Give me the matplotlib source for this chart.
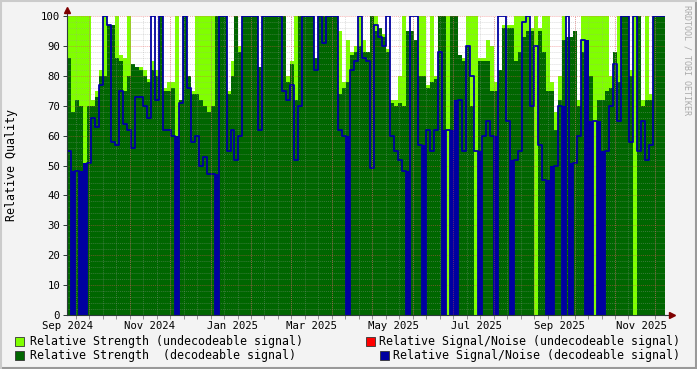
import pandas as pd
import matplotlib
matplotlib.use('Agg')
import matplotlib.pyplot as plt
from matplotlib.patches import Rectangle
from matplotlib.lines import Line2D

# one sample roughly every 3 days, Sep 2024 .. Nov 2025
strength = [
    100, 100, 100, 100, 100, 100, 72, 75, 82, 100, 97, 97, 100, 87, 86, 100, 84, 83, 83, 82, 79, 85, 82, 100, 76,
    78, 78, 100, 72, 100, 80, 75, 100, 100, 100, 100, 100, 100, 100, 100, 75, 85, 100, 90, 100, 100, 100, 100, 83, 100,
    100, 100, 100, 100, 100, 80, 85, 100, 100, 100, 100, 100, 86, 100, 100, 100, 100, 100, 95, 78, 92, 88, 90, 100, 92,
    88, 100, 100, 96, 94, 89, 72, 72, 80, 100, 95, 95, 92, 100, 100, 77, 100, 80, 100, 100, 100, 100, 100, 87, 86,
    100, 100, 100, 86, 86, 92, 90, 78, 82, 97, 97, 97, 100, 100, 100, 100, 96, 100, 96, 100, 100, 78, 68, 80, 100,
    93, 93, 95, 72, 100, 100, 100, 100, 100, 100, 100, 80, 88, 100, 100, 100, 82, 100, 100, 72, 100, 74, 100, 100, 100,
]
strength_decoded = [
    86, 68, 72, 70, 0, 70, 70, 73, 80, 80, 97, 97, 86, 85, 75, 80, 84, 83, 82, 80, 78, 82, 80, 100, 75,
    75, 76, 50, 72, 100, 80, 74, 74, 72, 70, 68, 70, 100, 100, 100, 74, 80, 100, 88, 100, 100, 100, 100, 83, 100,
    100, 100, 100, 100, 100, 78, 84, 72, 100, 100, 100, 100, 86, 100, 100, 100, 100, 100, 74, 76, 78, 87, 88, 90, 88,
    88, 100, 95, 96, 93, 88, 71, 70, 71, 70, 95, 95, 92, 80, 80, 76, 78, 79, 100, 100, 0, 100, 100, 87, 85,
    90, 70, 0, 85, 85, 85, 75, 75, 82, 96, 96, 96, 85, 88, 93, 95, 95, 0, 95, 88, 75, 75, 62, 72, 92,
    93, 93, 95, 70, 88, 72, 80, 0, 72, 72, 75, 76, 88, 78, 100, 100, 80, 0, 100, 70, 72, 72, 100, 100, 100,
]
snr_decoded = [
    55, 0, 48, 0, 0, 51, 66, 63, 77, 100, 97, 58, 57, 75, 64, 62, 56, 73, 73, 70, 66, 100, 72, 100, 62,
    62, 60, 0, 71, 100, 76, 58, 60, 50, 53, 47, 47, 0, 100, 100, 55, 62, 52, 60, 100, 100, 100, 100, 62, 100,
    100, 100, 100, 100, 75, 72, 77, 52, 70, 100, 100, 100, 82, 100, 91, 100, 100, 100, 62, 60, 0, 82, 85, 100, 86,
    85, 49, 97, 93, 90, 100, 60, 55, 52, 48, 0, 100, 100, 57, 0, 62, 55, 62, 88, 0, 62, 0, 0, 72, 55,
    90, 80, 55, 0, 60, 65, 60, 0, 100, 100, 65, 0, 52, 55, 98, 100, 70, 90, 57, 45, 0, 0, 50, 70, 0,
    100, 0, 51, 60, 92, 0, 0, 65, 0, 0, 55, 70, 84, 65, 100, 100, 58, 100, 55, 65, 52, 57, 100, 100, 100,
]
month_labels = ['2024-09-01', '2024-11-01', '2025-01-01', '2025-03-01',
                '2025-05-01', '2025-07-01', '2025-09-01', '2025-11-01']

LIGHT = '#80FF00'
DARK = '#006600'
BLUE = '#0000A0'
RED = '#FF0000'
BACK = '#F3F3F3'
AXIS = '#2C3C38'
ARROW = '#7F0000'
MONO = 'DejaVu Sans Mono'

start = pd.Timestamp('2024-08-31 12:00')
end = start + pd.Timedelta(days=443.6)
xs = pd.date_range(start, periods=len(strength) + 1, freq='71h')

# repeat last value so the final step is drawn
s_ext = strength + strength[-1:]
d_ext = strength_decoded + strength_decoded[-1:]
n_ext = snr_decoded + snr_decoded[-1:]

fig = plt.figure(figsize=(6.97, 3.69), dpi=100, facecolor=BACK)
ax = fig.add_axes([67 / 697, 54 / 369, 598 / 697, 299 / 369])
ax.set_facecolor('white')

ax.fill_between(xs, 0, s_ext, step='post', color=LIGHT, lw=0, zorder=1)
ax.fill_between(xs, 0, d_ext, step='post', color=DARK, lw=0, zorder=2)
ax.step(xs, n_ext, where='post', color=BLUE, lw=1.3, zorder=3)

# where the SNR drops to zero the line's two flanks merge into a solid band
for i, v in enumerate(snr_decoded):
    if v == 0:
        prev_v = snr_decoded[i - 1] if i > 0 else 100
        next_v = snr_decoded[i + 1] if i + 1 < len(snr_decoded) else 100
        top = min(prev_v if prev_v else 100, next_v if next_v else 100)
        ax.fill_between([xs[i], xs[i + 1]], 0, top, color=BLUE, lw=0, zorder=3)

ax.set_xlim(start, end)
ax.set_ylim(0, 100)

# y grid: minor every 2, major every 10
ax.set_yticks(range(0, 101, 10))
ax.set_yticks(range(0, 101, 2), minor=True)
ax.yaxis.grid(True, which='minor', color='#A0A0A0', alpha=0.35, ls=(0, (1, 1)), lw=0.7)
ax.yaxis.grid(True, which='major', color='#E85050', alpha=0.45, ls=(0, (1, 1)), lw=0.7)

# x grid: minor every 10 days, major every 30 days
minor_days = pd.date_range('2024-09-07', end, freq='10D')
major_days = pd.date_range('2024-09-17', end, freq='30D')
ax.set_xticks(minor_days, minor=True)
ax.xaxis.grid(True, which='minor', color='#A0A0A0', alpha=0.35, ls=(0, (1, 1)), lw=0.7)
for d in major_days:
    ax.axvline(d, color='#E85050', alpha=0.45, ls=(0, (1, 1)), lw=0.7, zorder=4)
ax.set_axisbelow(False)

ax.set_xticks(pd.to_datetime(month_labels))
ax.set_xticklabels([pd.Timestamp(m).strftime('%b %Y') for m in month_labels],
                   fontfamily=MONO, fontsize=7.7)
ax.tick_params(axis='x', which='major', length=0, pad=4)
ax.tick_params(axis='x', which='minor', length=3, color='#909090', width=0.7)
ax.tick_params(axis='y', which='major', length=3, color=AXIS, width=0.7, pad=2,
               labelsize=7.7)
ax.tick_params(axis='y', which='minor', length=0)
for lab in ax.get_yticklabels():
    lab.set_fontfamily(MONO)

for side in ('top', 'right'):
    ax.spines[side].set_visible(False)
for side in ('left', 'bottom'):
    ax.spines[side].set_color(AXIS)
    ax.spines[side].set_linewidth(0.8)
    ax.spines[side].set_zorder(6)

# arrow heads at the axis ends
ax.plot([1.0, 1.01], [0, 0], color=AXIS, lw=0.8, transform=ax.transAxes, clip_on=False)
ax.plot([1.012], [0], marker='>', ms=4, color=ARROW, transform=ax.transAxes, clip_on=False)
ax.plot([0, 0], [1.0, 1.015], color=AXIS, lw=0.8, transform=ax.transAxes, clip_on=False)
ax.plot([0], [1.02], marker='^', ms=4, color=ARROW, transform=ax.transAxes, clip_on=False)

fig.text(12 / 697, 1 - 165 / 369, 'Relative Quality', rotation=90, ha='center', va='center',
         fontfamily=MONO, fontsize=8.4)
fig.text(687 / 697, 1 - 5 / 369, 'RRDTOOL / TOBI OETIKER', rotation=270, ha='center', va='top',
         fontfamily=MONO, fontsize=6, color='#AAAAAA')

# legend, rrdtool style
legend_rows = [
    [(LIGHT, 'Relative Strength (undecodeable signal)', 15, 30, 'left'),
     (RED, 'Relative Signal/Noise (undecodeable signal)', 366, 680, 'right')],
    [(DARK, 'Relative Strength  (decodeable signal)', 15, 30, 'left'),
     (BLUE, 'Relative Signal/Noise (decodeable signal)', 380, 680, 'right')],
]
for row, yc in zip(legend_rows, [341, 355]):
    for color, label, bx, tx, ha in row:
        fig.patches.append(Rectangle((bx / 697, 1 - (yc + 4.5) / 369), 9 / 697, 9 / 369,
                                     transform=fig.transFigure, facecolor=color,
                                     edgecolor='#333333', lw=0.6))
        fig.text(tx / 697, 1 - yc / 369, label, ha=ha, va='center',
                 fontfamily=MONO, fontsize=8.4)

# shaded frame
fig.lines.append(Line2D([0, 1], [0.002, 0.002], transform=fig.transFigure, color='#999999', lw=1.5))
fig.lines.append(Line2D([0.998, 0.998], [0, 1], transform=fig.transFigure, color='#999999', lw=1.5))
fig.lines.append(Line2D([0, 1], [0.998, 0.998], transform=fig.transFigure, color='#CBCBCB', lw=1.5))
fig.lines.append(Line2D([0.002, 0.002], [0, 1], transform=fig.transFigure, color='#CBCBCB', lw=1.5))

fig.savefig('out.png', dpi=100, facecolor=BACK)
